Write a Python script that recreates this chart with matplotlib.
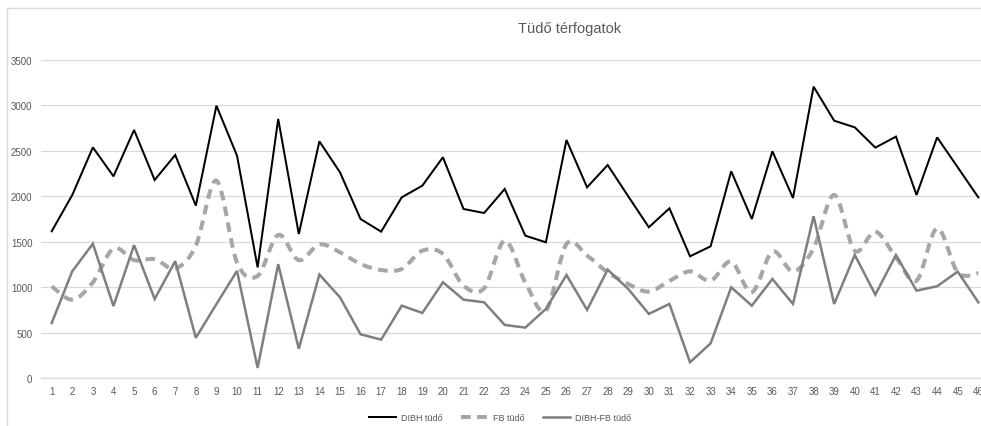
import matplotlib
matplotlib.use("Agg")
import matplotlib.pyplot as plt
from matplotlib.path import Path
from matplotlib.patches import PathPatch, Rectangle
from matplotlib.lines import Line2D
import numpy as np

plt.rcParams['font.family'] = ['Liberation Sans', 'DejaVu Sans']

title = "Tüdő térfogatok"
categories = [str(i) for i in range(1, 47)]
dibh = [1615, 2014, 2537, 2219, 2728, 2179, 2453, 1897, 2995, 2446,
        1219, 2849, 1585, 2603, 2263, 1750, 1611, 1988, 2116, 2428,
        1860, 1816, 2080, 1567, 1494, 2618, 2098, 2343, 1999, 1659,
        1867, 1340, 1450, 2274, 1750, 2494, 1981, 3204, 2830, 2757,
        2534, 2655, 2014, 2647, 2318, 1988]
fb = [1011, 864, 1054, 1426, 1298, 1309, 1206, 1457, 2171, 1272,
      1125, 1574, 1298, 1471, 1384, 1256, 1190, 1201, 1402, 1366,
      1018, 989, 1512, 1054, 743, 1476, 1348, 1164, 1036, 952,
      1070, 1175, 1073, 1282, 945, 1391, 1175, 1428, 2014, 1402,
      1611, 1329, 1073, 1648, 1164, 1153]
diff = [607, 1176, 1478, 794, 1463, 871, 1287, 445, 815, 1180,
        114, 1254, 324, 1140, 890, 483, 425, 798, 718, 1055,
        864, 835, 586, 557, 762, 1135, 751, 1194, 981, 707,
        817, 176, 384, 1000, 798, 1091, 817, 1780, 817, 1355,
        919, 1355, 963, 1011, 1172, 835]
labels = ["DIBH tüdő", "FB tüdő", "DIBH-FB tüdő"]
yticks = [0, 500, 1000, 1500, 2000, 2500, 3000, 3500]

W, H = 981, 427
fig = plt.figure(figsize=(W / 100, H / 100), dpi=100)
fig.patch.set_facecolor('white')

# chart border (cropped Excel chart area)
fig.patches.append(Rectangle((6.5 / W, -0.1), 1.2, (H - 9) / H + 0.1,
                             transform=fig.transFigure, fill=False,
                             edgecolor='#d9d9d9', linewidth=1.0))

left = 41.4 / W
right = 988.6 / W
bottom = (H - 379.3) / H
top = (H - 60.7) / H
ax = fig.add_axes([left, bottom, right - left, top - bottom])
ax.set_facecolor('none')

x = np.arange(1, len(categories) + 1)
ax.set_xlim(0.5, len(categories) + 0.5)
ax.set_ylim(0, 3500)

ax.plot(x, dibh, color='black', linewidth=1.45, solid_joinstyle='miter', zorder=3)


def smooth_path(xs, ys):
    xs = np.asarray(xs, float)
    ys = np.asarray(ys, float)
    n = len(xs)
    verts = [(xs[0], ys[0])]
    codes = [Path.MOVETO]
    for i in range(n - 1):
        x0, y0 = (xs[i - 1], ys[i - 1]) if i > 0 else (xs[i], ys[i])
        x1, y1 = xs[i], ys[i]
        x2, y2 = xs[i + 1], ys[i + 1]
        x3, y3 = (xs[i + 2], ys[i + 2]) if i + 2 < n else (xs[i + 1], ys[i + 1])
        c1 = (x1 + (x2 - x0) / 6.0, y1 + (y2 - y0) / 6.0)
        c2 = (x2 - (x3 - x1) / 6.0, y2 - (y3 - y1) / 6.0)
        verts += [c1, c2, (x2, y2)]
        codes += [Path.CURVE4] * 3
    return Path(verts, codes)


patch = PathPatch(smooth_path(x, fb), facecolor='none', edgecolor='#a6a6a6',
                  linewidth=2.9, linestyle=(0, (2.4, 1.6)), capstyle='butt', zorder=2)
ax.add_patch(patch)

ax.plot(x, diff, color='#7f7f7f', linewidth=1.8, solid_joinstyle='miter', zorder=2.5)

ax.set_xticks(x)
ax.set_xticklabels(categories)
ax.set_yticks(yticks)
ax.set_yticklabels([str(v) for v in yticks])
ax.tick_params(axis='both', length=0, labelsize=7, labelcolor='#595959')
ax.tick_params(axis='x', pad=5.5)
ax.tick_params(axis='y', pad=6.5)
ax.grid(axis='y', color='#d9d9d9', linewidth=0.9)
ax.set_axisbelow(True)
for s in ['top', 'right', 'left']:
    ax.spines[s].set_visible(False)
ax.spines['bottom'].set_color('#d9d9d9')
ax.spines['bottom'].set_linewidth(0.9)

fig.text(570 / W, (H - 29) / H, title, ha='center', va='center',
         fontsize=10.5, color='#595959')

handles = [Line2D([], [], color='black', linewidth=1.45),
           Line2D([], [], color='#a6a6a6', linewidth=2.9, linestyle=(0, (2.4, 1.6))),
           Line2D([], [], color='#7f7f7f', linewidth=1.8)]
leg = fig.legend(handles, labels, loc='center', bbox_to_anchor=(500 / W, 8 / H),
                 ncol=3, frameon=False, fontsize=6.5, handlelength=3.0,
                 handletextpad=0.55, columnspacing=2.0, labelcolor='#595959')

fig.savefig('out.png', dpi=100, facecolor='white')
